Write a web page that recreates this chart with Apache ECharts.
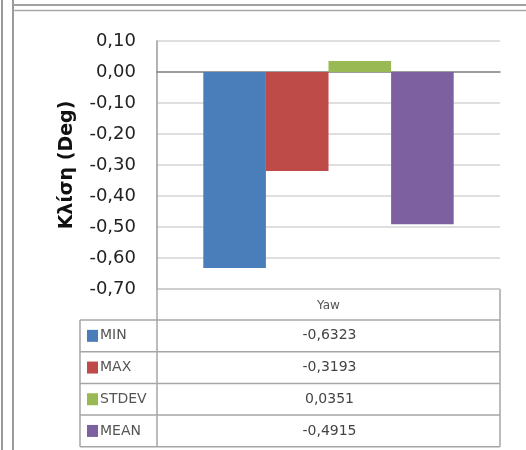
<!DOCTYPE html>
<html>
<head>
<meta charset="utf-8">
<script src="https://cdn.jsdelivr.net/npm/echarts@6/dist/echarts.min.js"></script>
<style>
html,body{margin:0;padding:0;background:#fff;}
#c{width:526px;height:450px;}
</style>
</head>
<body>
<div id="c"></div>
<script>
const categories = ['Yaw'];
const seriesNames = ['MIN', 'MAX', 'STDEV', 'MEAN'];
const seriesValues = [[-0.6323], [-0.3193], [0.0351], [-0.4915]];
const seriesColors = ['#4A7EBB', '#BE4B48', '#98B954', '#7D60A0'];
const yTicks = { min: -0.7, max: 0.1, interval: 0.1 };
const yName = 'Κλίση (Deg)';

const W = 526, H = 450;
const G = { left: 157, right: 26, top: 41, bottom: 161 };
const fmt = (v, d) => v.toFixed(d).replace('.', ',');

const chart = echarts.init(document.getElementById('c'), null, { renderer: 'canvas' });

// data table geometry
const x0 = 80, x1 = G.left, x2 = W - G.right;
const tTop = H - G.bottom;
const headerH = 31;
const rowH = 31.7;
const lineColor = '#a6a6a6';
const graphics = [];

function hline(y, xa, xb) {
  graphics.push({ type: 'line', shape: { x1: xa, y1: y, x2: xb, y2: y }, style: { stroke: lineColor, lineWidth: 1.5 }, silent: true });
}
function vline(x, ya, yb) {
  graphics.push({ type: 'line', shape: { x1: x, y1: ya, x2: x, y2: yb }, style: { stroke: lineColor, lineWidth: 1.5 }, silent: true });
}
const rowsTop = tTop + headerH;
const tBottom = rowsTop + rowH * seriesNames.length;
hline(tTop, x1, x2);
hline(rowsTop, x0, x2);
for (let i = 1; i <= seriesNames.length; i++) hline(rowsTop + rowH * i, x0, x2);
vline(x0, rowsTop, tBottom);
vline(x1, tTop, tBottom);
vline(x2, tTop, tBottom);

graphics.push({ type: 'text', x: (x1 + x2) / 2, y: tTop + headerH / 2 + 1,
  style: { text: categories[0], font: '12px "DejaVu Sans"', fill: '#555', textAlign: 'center', textVerticalAlign: 'middle' } });

seriesNames.forEach((n, i) => {
  const cy = rowsTop + rowH * i + rowH / 2;
  graphics.push({ type: 'rect', shape: { x: 87, y: cy - 6, width: 11, height: 12 }, style: { fill: seriesColors[i] } });
  graphics.push({ type: 'text', x: 100, y: cy,
    style: { text: n, font: '14px "DejaVu Sans"', fill: '#555', textAlign: 'left', textVerticalAlign: 'middle' } });
  graphics.push({ type: 'text', x: (x1 + x2) / 2 + 1, y: cy,
    style: { text: fmt(seriesValues[i][0], 4), font: '14px "DejaVu Sans"', fill: '#444', textAlign: 'center', textVerticalAlign: 'middle' } });
});

// window frame
graphics.push({ type: 'line', shape: { x1: 2, y1: 0, x2: 2, y2: H }, style: { stroke: '#9a9a9a', lineWidth: 2 } });
graphics.push({ type: 'line', shape: { x1: 13, y1: 0, x2: 13, y2: H }, style: { stroke: '#9a9a9a', lineWidth: 2 } });
graphics.push({ type: 'line', shape: { x1: 13, y1: 5, x2: W, y2: 5 }, style: { stroke: '#a0a0a0', lineWidth: 2 } });
graphics.push({ type: 'line', shape: { x1: 13, y1: 10.5, x2: W, y2: 10.5 }, style: { stroke: '#a8a8a8', lineWidth: 1.5 } });

chart.setOption({
  animation: false,
  backgroundColor: '#fff',
  grid: { left: G.left, right: G.right, top: G.top, bottom: G.bottom, containLabel: false },
  xAxis: {
    type: 'category',
    data: categories,
    axisLine: { show: true, onZero: true, lineStyle: { color: '#868686', width: 1.5 } },
    axisTick: { show: false },
    axisLabel: { show: false },
    splitLine: { show: false }
  },
  yAxis: {
    type: 'value',
    min: yTicks.min,
    max: yTicks.max,
    interval: yTicks.interval,
    name: yName,
    nameLocation: 'middle',
    nameGap: 80,
    nameTextStyle: { fontFamily: 'DejaVu Sans', fontWeight: 'bold', fontSize: 19, color: '#111' },
    axisLine: { show: true, lineStyle: { color: '#9a9a9a', width: 1.5 } },
    axisTick: { show: false },
    axisLabel: {
      margin: 21,
      fontFamily: 'DejaVu Sans',
      fontSize: 18,
      color: '#222',
      formatter: v => fmt(v, 2)
    },
    splitLine: { show: true, lineStyle: { color: '#d4d4d4', width: 1.5 } }
  },
  series: seriesNames.map((n, i) => ({
    name: n,
    type: 'bar',
    data: seriesValues[i],
    barGap: '0%',
    barCategoryGap: '27%',
    itemStyle: { color: seriesColors[i] }
  })),
  graphic: graphics
});
</script>
</body>
</html>
